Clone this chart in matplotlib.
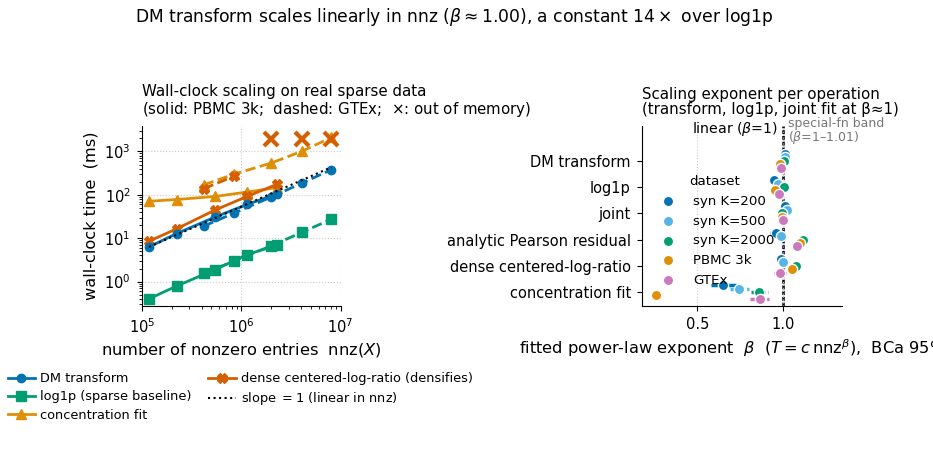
import matplotlib
matplotlib.use("Agg")
import matplotlib.pyplot as plt
import numpy as np

# ---- left panel: wall-clock scaling (ms) ----
nnz_pbmc = [1.18e5, 2.24e5, 5.5e5, 1.15e6, 2.28e6]
nnz_gtex = [4.2e5, 8.5e5, 2.0e6, 4.1e6, 8.1e6]

dm_pbmc = [6.3, 12.8, 31, 60, 105]
dm_gtex = [19, 38, 89, 187, 380]
log1p_pbmc = [0.40, 0.79, 1.9, 4.2, 6.9]
log1p_gtex = [1.54, 3.0, 6.65, 13.7, 27.5]
conc_pbmc = [71, 78, 92, 116, 147]
conc_gtex = [170, 300, 540, 1015, 2100]
clr_pbmc = [8.5, 16.5, 45, 92, 174]
clr_gtex = [138, 270]
clr_oom_nnz = [2.0e6, 4.1e6, 8.1e6]
clr_oom_y = [1950, 1950, 1950]

# ---- right panel: fitted exponents ----
operations = ["DM transform", "log1p", "joint", "analytic Pearson residual",
              "dense centered-log-ratio", "concentration fit"]
datasets = ["syn K=200", "syn K=500", "syn K=2000", "PBMC 3k", "GTEx"]
beta = {
    "syn K=200":  [1.010, 0.946, 1.010, 0.961, 0.991, 0.650],
    "syn K=500":  [1.014, 0.971, 1.023, 0.991, 1.000, 0.741],
    "syn K=2000": [1.004, 1.006, 0.996, 1.117, 1.078, 0.860],
    "PBMC 3k":    [0.985, 0.956, 0.994, 1.102, 1.053, 0.257],
    "GTEx":       [0.991, 0.975, 1.000, 1.084, 0.981, 0.864],
}
ci_lo = {
    "syn K=200":  [1.005, 0.926, 1.005, 0.926, 0.986, 0.578],
    "syn K=500":  [1.009, 0.966, 1.018, 0.986, 0.995, 0.689],
    "syn K=2000": [0.999, 1.001, 0.991, 1.112, 1.073, 0.816],
    "PBMC 3k":    [0.980, 0.951, 0.989, 1.097, 1.048, 0.252],
    "GTEx":       [0.986, 0.970, 0.995, 1.079, 0.946, 0.810],
}
ci_hi = {
    "syn K=200":  [1.015, 0.971, 1.015, 0.980, 0.996, 0.724],
    "syn K=500":  [1.019, 0.976, 1.028, 0.996, 1.005, 0.800],
    "syn K=2000": [1.009, 1.011, 1.001, 1.122, 1.083, 0.912],
    "PBMC 3k":    [0.990, 0.961, 0.999, 1.107, 1.058, 0.262],
    "GTEx":       [0.996, 0.980, 1.005, 1.089, 1.020, 0.920],
}
ds_colors = ["#0173b2", "#56b4e9", "#029e73", "#de8f05", "#cc78bc"]

BLUE, GREEN, YEL, RED = "#0173b2", "#029e73", "#de8f05", "#d55e00"

fig = plt.figure(figsize=(9.33, 4.72), dpi=100)
fig.suptitle(r"DM transform scales linearly in nnz ($\beta\approx1.00$), a constant $14\times$ over log1p",
             x=0.487, y=0.987, fontsize=12.3)

ax = fig.add_axes([0.152, 0.352, 0.213, 0.380])
lw = 2
h_dm, = ax.plot(nnz_pbmc, dm_pbmc, "-o", color=BLUE, lw=lw, ms=6, label="DM transform", zorder=4)
ax.plot(nnz_gtex, dm_gtex, "--o", color=BLUE, lw=lw, ms=6, zorder=4)
h_lg, = ax.plot(nnz_pbmc, log1p_pbmc, "-s", color=GREEN, lw=lw, ms=6.5, label="log1p (sparse baseline)", zorder=4)
ax.plot(nnz_gtex, log1p_gtex, "--s", color=GREEN, lw=lw, ms=6.5, zorder=4)
h_cf, = ax.plot(nnz_pbmc, conc_pbmc, "-^", color=YEL, lw=lw, ms=6.5, label="concentration fit", zorder=3)
ax.plot(nnz_gtex, conc_gtex, "--^", color=YEL, lw=lw, ms=6.5, zorder=3)
h_clr, = ax.plot(nnz_pbmc, clr_pbmc, "-X", color=RED, lw=lw, ms=6.5, label="dense centered-log-ratio (densifies)", zorder=3)
ax.plot(nnz_gtex[:2], clr_gtex, "--X", color=RED, lw=lw, ms=6.5, zorder=3)
ax.plot(clr_oom_nnz, clr_oom_y, "x", color=RED, ms=10.5, mew=3, ls="none", zorder=5)
xr = np.array([nnz_pbmc[0], nnz_gtex[-1]])
h_sl, = ax.plot(xr, dm_pbmc[0] * xr / xr[0], ":", color="black", lw=1.5,
                label=r"slope $=1$ (linear in nnz)", zorder=5)
ax.set_xscale("log")
ax.set_yscale("log")
ax.set_xlim(1e5, 1e7)
ax.set_ylim(0.276, 3760)
ax.grid(True, which="major", ls=":", color="#cccccc", lw=0.8)
ax.spines[["top", "right"]].set_visible(False)
ax.set_xlabel(r"number of nonzero entries  nnz($X$)", fontsize=11.7)
ax.set_ylabel("wall-clock time  (ms)", fontsize=11.7)
ax.tick_params(labelsize=10.5, pad=4.5)
ax.set_title("Wall-clock scaling on real sparse data\n(solid: PBMC 3k;  dashed: GTEx;  $\\times$: out of memory)",
             loc="left", fontsize=10.8, pad=9, linespacing=1.05)

fig.legend(handles=[h_dm, h_lg, h_cf, h_clr, h_sl], loc="upper left",
           bbox_to_anchor=(-0.004, 0.236), ncol=2, frameon=False, fontsize=9.3,
           handlelength=2.1, handletextpad=0.4, columnspacing=1.3, labelspacing=0.4)

# ---- right panel ----
ax2 = fig.add_axes([0.688, 0.352, 0.215, 0.380])
ypos = np.arange(len(operations))
for i, ds in enumerate(datasets):
    off = (i - 2) * 0.13
    b = np.array(beta[ds])
    lo = b - np.array(ci_lo[ds])
    hi = np.array(ci_hi[ds]) - b
    eb = ax2.errorbar(b, ypos + off, xerr=[lo, hi], fmt="none", ecolor=ds_colors[i],
                      elinewidth=2.5, capsize=0, zorder=2)
    eb[2][0].set_linestyle((0, (4, 0.8)))
    ax2.scatter(b, ypos + off, s=55, color=ds_colors[i], edgecolor="white",
                linewidth=1, zorder=3, label=ds)
ax2.axvspan(1.0, 1.01, color="#999999", alpha=0.3, lw=0, zorder=1)
ax2.axvline(1.0, color="black", ls=(0, (1.5, 0.8)), lw=1.8, zorder=1)
ax2.text(0.97, -1.2, r"linear ($\beta$=1)", ha="right", va="center", fontsize=10.2)
ax2.text(1.03, -1.12, "special-fn band\n" + r"($\beta$=1–1.01)", ha="left", va="center",
         fontsize=9, color="#777777", linespacing=0.95)
ax2.set_yticks(ypos)
ax2.set_yticklabels(operations)
ax2.set_ylim(5.53, -1.31)
ax2.set_xlim(0.177, 1.348)
ax2.set_xticks([0.5, 1.0])
ax2.grid(True, axis="x", ls=":", color="#cccccc", lw=0.8)
ax2.spines[["top", "right"]].set_visible(False)
ax2.tick_params(labelsize=10.5, pad=4.5)
ax2.set_xlabel(r"fitted power-law exponent  $\beta$  ($T = c\,\mathrm{nnz}^{\beta}$),  BCa 95% CI", fontsize=11.7)
ax2.set_title("Scaling exponent per operation\n(transform, log1p, joint fit at β≈1)",
              loc="left", fontsize=10.8, pad=9, linespacing=1.0)
ax2.legend(title="dataset", loc="upper left", bbox_to_anchor=(0.015, 0.78), frameon=False,
           fontsize=9.6, title_fontsize=9.6, handletextpad=0.9, labelspacing=0.5, borderpad=0.2)

fig.savefig("out.png", dpi=100)
